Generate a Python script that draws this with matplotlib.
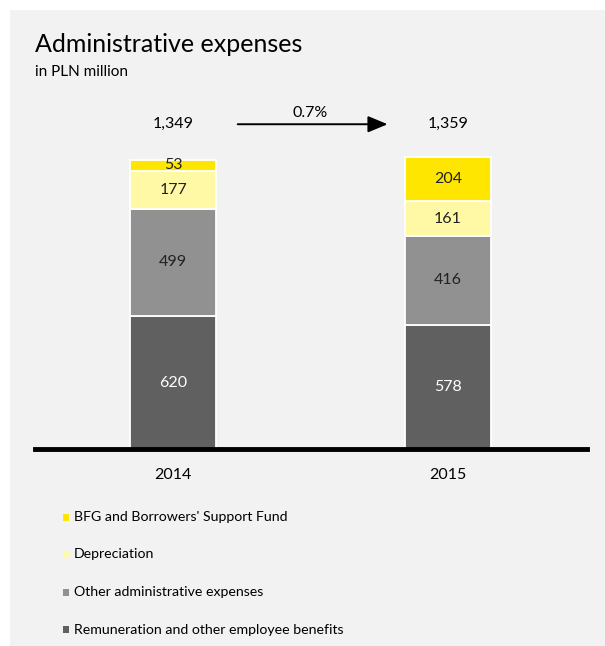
import numpy as np
import matplotlib.pyplot as plt
from matplotlib.patches import Rectangle

plt.rcParams['font.family'] = ['Lato', 'DejaVu Sans']

# values in PLN million, bottom segment first
years = ['2014', '2015']
remuneration = [620, 578]
other_admin = [499, 416]
depreciation = [177, 161]
bfg = [53, 204]
totals = [1349, 1359]
change_label = '0.7%'

series = [
    ('Remuneration and other employee benefits', remuneration, '#606060', 'white'),
    ('Other administrative expenses', other_admin, '#919191', '#222222'),
    ('Depreciation', depreciation, '#FFF9A6', '#222222'),
    ("BFG and Borrowers' Support Fund", bfg, '#FFE600', '#222222'),
]

W, H = 605, 646
fig = plt.figure(figsize=(W / 100, H / 100), dpi=100)
fig.patch.set_facecolor('white')
fig.patches.append(Rectangle((10 / W, 0), 1 - 10 / W, 1 - 10 / H,
                             transform=fig.transFigure, facecolor='#f2f2f2',
                             edgecolor='none', zorder=-10))

ax = fig.add_axes([35 / W, 197 / H, 552 / W, 349 / H])
ax.set_facecolor('none')

x = np.arange(len(years))
width = 0.315
bottom = np.zeros(len(years))
for name, vals, color, tcolor in series:
    vals = np.array(vals, dtype=float)
    ax.bar(x, vals, width, bottom=bottom, color=color, edgecolor='white',
           linewidth=1.3, zorder=2)
    for xi, b, v in zip(x, bottom, vals):
        ax.text(xi, b + v / 2, f'{int(v)}', ha='center', va='center',
                fontsize=11.5, color=tcolor, zorder=3)
    bottom += vals

ax.set_xlim(-0.502, 1.505)
ax.set_ylim(0, 1627)

for s in ['top', 'right', 'left']:
    ax.spines[s].set_visible(False)
ax.spines['bottom'].set_linewidth(3.5)
ax.spines['bottom'].set_color('black')
ax.spines['bottom'].set_zorder(4)
ax.set_yticks([])
ax.set_xticks(x)
ax.set_xticklabels(years, fontsize=11.5)
ax.tick_params(axis='x', length=0, pad=14)

# totals and year-on-year change
y_tot = 1349 + 165
for xi, t in zip(x, totals):
    ax.text(xi, y_tot, f'{t:,}', ha='center', va='center', fontsize=11.5)
ax.annotate('', xy=(0.79, y_tot), xytext=(0.225, y_tot),
            arrowprops=dict(arrowstyle='-|>,head_length=1.2,head_width=0.5',
                            color='black', lw=1.4))
ax.text(0.5, y_tot + 52, change_label, ha='center', va='center', fontsize=11.5)

fig.text(35 / W, 1 - 45 / H, 'Administrative expenses', fontsize=18,
         va='center', ha='left')
fig.text(35 / W, 1 - 72 / H, 'in PLN million', fontsize=11,
         va='center', ha='left')

# legend, top row first
for i, (name, vals, color, tcolor) in enumerate(reversed(series)):
    yy = 1 - (517 + i * 37.5) / H
    fig.patches.append(Rectangle((63 / W, yy - 3.5 / H), 6 / W, 7 / H,
                                 transform=fig.transFigure, facecolor=color,
                                 edgecolor='none'))
    fig.text(74 / W, yy, name, fontsize=10.2, va='center', ha='left')

fig.savefig('out.png', dpi=100, facecolor=fig.get_facecolor())
